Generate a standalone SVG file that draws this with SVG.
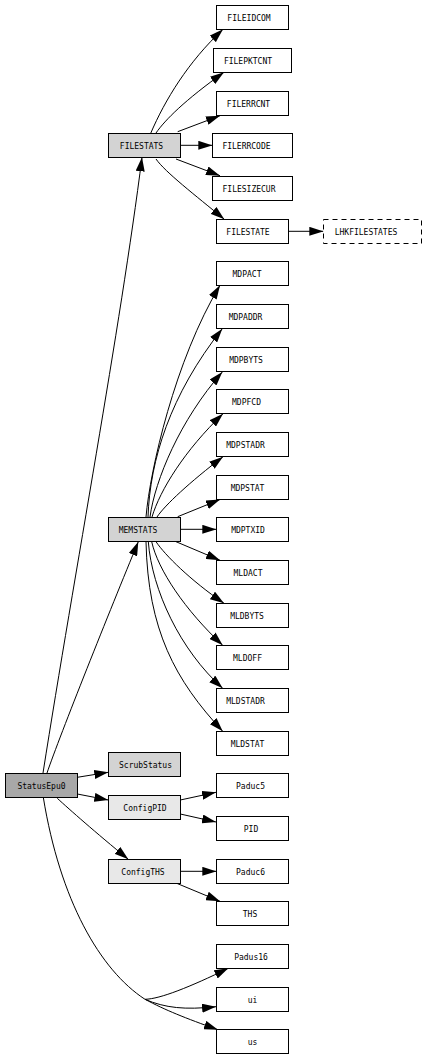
<svg xmlns="http://www.w3.org/2000/svg" width="426" height="1058" viewBox="0 0 426 1058">
<style>
rect{stroke:#000;stroke-width:1;fill:#fff}
.g1{fill:#a8a8a8}
.g2{fill:#d3d3d3}
.g3{fill:#e8e8e8}
.dash{stroke-dasharray:5,4}
text{font-family:"DejaVu Sans Mono","Liberation Mono",monospace;font-size:8px;text-anchor:middle;fill:#000}
#edges path{fill:none;stroke:#000;stroke-width:1}
#edges path.a{marker-end:url(#ah)}
</style>
<defs>
<marker id="ah" viewBox="0 0 14 9" refX="14" refY="4.5" markerWidth="14" markerHeight="9" markerUnits="userSpaceOnUse" orient="auto"><path d="M0,0 L14,4.5 L0,9 z" fill="#000"/></marker>
</defs>
<rect x="0" y="0" width="426" height="1058" style="fill:#fff;stroke:none"/>
<g id="edges">
<path class="a" d="M43,773 C75,570 120,330 142,157.3"/>
<path class="a" d="M47,773 C60,735 110,610 138.3,541.7"/>
<path class="a" d="M150.7,133.3 C165,100 188,62 223,29.3"/>
<path class="a" d="M156,133 C165,120 185,100 224,72.3"/>
<path class="a" d="M177.7,131.7 L220,115.7"/>
<path class="a" d="M180.3,145.3 L212.3,145.3"/>
<path class="a" d="M176,159 L220,175.7"/>
<path class="a" d="M156,159 C165,172 195,195 224.3,219.3"/>
<path class="a" d="M288.3,231.3 L323.3,231.3"/>
<path class="a" d="M146,517 C150,470 175,360 220,285.3"/>
<path class="a" d="M148,517 C150,460 170,395 222.3,328.7"/>
<path class="a" d="M150,517 C155,480 180,420 222.3,372"/>
<path class="a" d="M152,517 C160,490 185,450 223,413.7"/>
<path class="a" d="M157,517 C165,505 190,482 223,456.7"/>
<path class="a" d="M177.7,516.7 L220,499.5"/>
<path class="a" d="M180.3,529.3 L216.3,529.3"/>
<path class="a" d="M176,541.7 L220,560.3"/>
<path class="a" d="M156,541.7 C165,555 190,580 224,603.3"/>
<path class="a" d="M151.7,541.7 C158,570 185,610 222.7,645.3"/>
<path class="a" d="M148.3,541.7 C152,590 180,650 222.7,688.3"/>
<path class="a" d="M146,541.7 C148,630 175,680 222.7,731.3"/>
<path class="a" d="M77.3,777.3 L108.3,772.3"/>
<path class="a" d="M77.3,794 L108.3,800"/>
<path class="a" d="M57.3,798.3 C70,810 95,832 128.3,859.3"/>
<path d="M43.3,797.3 C60,900 100,970 145,999.3"/>
<path class="a" d="M145,999.3 C160,999 190,987 228.3,968.3"/>
<path class="a" d="M145,999.3 C165,1008 185,1010 216,1006.7"/>
<path class="a" d="M145,999.3 C165,1010 185,1018 218,1029.8"/>
<path class="a" d="M180.3,800 L216,792.3"/>
<path class="a" d="M180.3,814 L216,822"/>
<path class="a" d="M180.3,871.3 L216.3,871.3"/>
<path class="a" d="M176.7,883.3 L220,901.3"/>
</g>
<g id="StatusEpu0"><rect class="g1" x="5.5" y="773.5" width="72" height="24"/><text x="41.5" y="788.7">StatusEpu0</text></g>
<g id="FILESTATS"><rect class="g2" x="108.5" y="133.5" width="72" height="24"/><text x="141.5" y="148.7">FILESTATS</text></g>
<g id="MEMSTATS"><rect class="g2" x="108.5" y="517.5" width="72" height="24"/><text x="138" y="532.7">MEMSTATS</text></g>
<g id="ScrubStatus"><rect class="g2" x="108.5" y="752.5" width="72" height="24"/><text x="145.5" y="767.7">ScrubStatus</text></g>
<g id="ConfigPID"><rect class="g3" x="108.5" y="795.5" width="72" height="24"/><text x="145" y="810.7">ConfigPID</text></g>
<g id="ConfigTHS"><rect class="g3" x="108.5" y="859.5" width="72" height="24"/><text x="143" y="874.7">ConfigTHS</text></g>
<g id="FILEIDCOM"><rect x="216.5" y="5.5" width="72" height="24"/><text x="249" y="20.7">FILEIDCOM</text></g>
<g id="FILEPKTCNT"><rect x="213.5" y="48.5" width="78" height="24"/><text x="248" y="63.7">FILEPKTCNT</text></g>
<g id="FILERRCNT"><rect x="216.5" y="91.5" width="72" height="24"/><text x="248.5" y="106.7">FILERRCNT</text></g>
<g id="FILERRCODE"><rect x="212.5" y="133.5" width="80" height="24"/><text x="246.5" y="148.7">FILERRCODE</text></g>
<g id="FILESIZECUR"><rect x="212.5" y="176.5" width="80" height="24"/><text x="249" y="191.7">FILESIZECUR</text></g>
<g id="FILESTATE"><rect x="216.5" y="219.5" width="72" height="24"/><text x="248" y="234.7">FILESTATE</text></g>
<g id="LHKFILESTATES"><rect class="dash" x="323.5" y="219.5" width="98" height="24"/><text x="366" y="234.7">LHKFILESTATES</text></g>
<g id="MDPACT"><rect x="216.5" y="261.5" width="72" height="24"/><text x="247" y="276.7">MDPACT</text></g>
<g id="MDPADDR"><rect x="216.5" y="304.5" width="72" height="24"/><text x="245.5" y="319.7">MDPADDR</text></g>
<g id="MDPBYTS"><rect x="216.5" y="347.5" width="72" height="24"/><text x="246" y="362.7">MDPBYTS</text></g>
<g id="MDPFCD"><rect x="216.5" y="389.5" width="72" height="24"/><text x="246.5" y="404.7">MDPFCD</text></g>
<g id="MDPSTADR"><rect x="216.5" y="432.5" width="72" height="24"/><text x="245.5" y="447.7">MDPSTADR</text></g>
<g id="MDPSTAT"><rect x="216.5" y="475.5" width="72" height="24"/><text x="247.5" y="490.7">MDPSTAT</text></g>
<g id="MDPTXID"><rect x="216.5" y="517.5" width="72" height="24"/><text x="248" y="532.7">MDPTXID</text></g>
<g id="MLDACT"><rect x="216.5" y="560.5" width="72" height="24"/><text x="248" y="575.7">MLDACT</text></g>
<g id="MLDBYTS"><rect x="216.5" y="603.5" width="72" height="24"/><text x="247" y="618.7">MLDBYTS</text></g>
<g id="MLDOFF"><rect x="216.5" y="645.5" width="72" height="24"/><text x="247.5" y="660.7">MLDOFF</text></g>
<g id="MLDSTADR"><rect x="216.5" y="688.5" width="72" height="24"/><text x="245.5" y="703.7">MLDSTADR</text></g>
<g id="MLDSTAT"><rect x="216.5" y="731.5" width="72" height="24"/><text x="247.5" y="746.7">MLDSTAT</text></g>
<g id="Paduc5"><rect x="216.5" y="773.5" width="72" height="24"/><text x="250.5" y="788.7">Paduc5</text></g>
<g id="PID"><rect x="216.5" y="816.5" width="72" height="24"/><text x="251" y="831.7">PID</text></g>
<g id="Paduc6"><rect x="216.5" y="859.5" width="72" height="24"/><text x="250.5" y="874.7">Paduc6</text></g>
<g id="THS"><rect x="216.5" y="901.5" width="72" height="24"/><text x="250" y="916.7">THS</text></g>
<g id="Padus16"><rect x="216.5" y="944.5" width="72" height="24"/><text x="251" y="959.7">Padus16</text></g>
<g id="ui"><rect x="216.5" y="987.5" width="72" height="24"/><text x="252.5" y="1002.7">ui</text></g>
<g id="us"><rect x="216.5" y="1029.5" width="72" height="24"/><text x="252.5" y="1044.7">us</text></g>
</svg>
